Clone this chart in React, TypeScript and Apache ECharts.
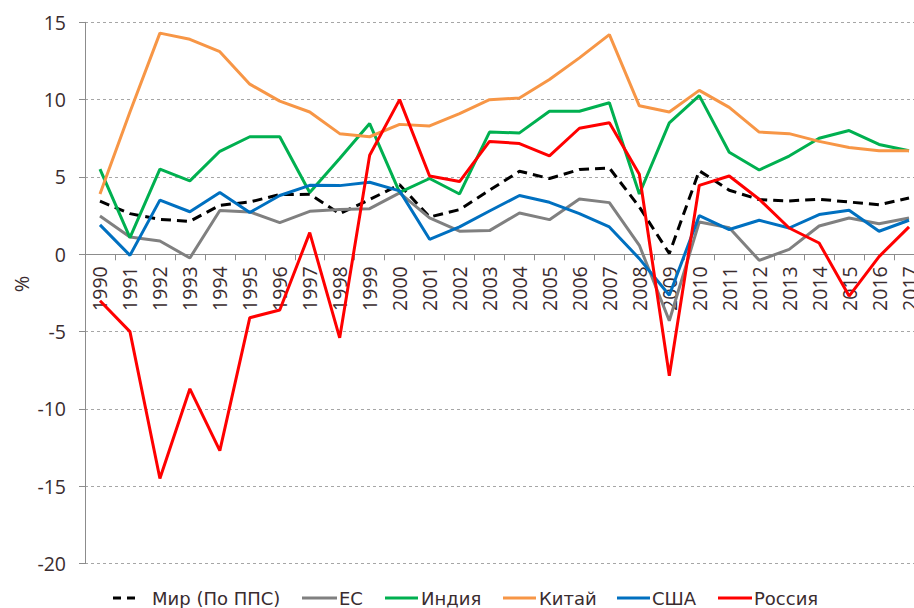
import React, { useEffect, useRef } from "react";
import * as echarts from "echarts";

const years = [
  "1990", "1991", "1992", "1993", "1994", "1995", "1996", "1997", "1998", "1999",
  "2000", "2001", "2002", "2003", "2004", "2005", "2006", "2007", "2008", "2009",
  "2010", "2011", "2012", "2013", "2014", "2015", "2016", "2017",
];

const world = [3.43, 2.63, 2.26, 2.13, 3.17, 3.38, 3.86, 3.88, 2.63, 3.54, 4.5, 2.41, 2.89, 4.14, 5.37, 4.9, 5.48, 5.58, 3.06, 0.05, 5.4, 4.14, 3.54, 3.45, 3.56, 3.38, 3.2, 3.64];
const eu = [2.48, 1.12, 0.86, -0.24, 2.83, 2.74, 2.05, 2.78, 2.9, 2.95, 3.97, 2.35, 1.49, 1.53, 2.67, 2.24, 3.58, 3.34, 0.58, -4.3, 2.09, 1.72, -0.39, 0.32, 1.83, 2.35, 1.98, 2.35];
const india = [5.5, 1.08, 5.5, 4.75, 6.66, 7.6, 7.6, 4.0, 6.2, 8.45, 4.0, 4.9, 3.9, 7.9, 7.85, 9.25, 9.25, 9.8, 3.9, 8.5, 10.26, 6.6, 5.45, 6.35, 7.5, 8.0, 7.1, 6.7];
const china = [3.9, 9.2, 14.3, 13.9, 13.1, 11.0, 9.9, 9.2, 7.8, 7.6, 8.4, 8.3, 9.1, 10.0, 10.1, 11.3, 12.7, 14.2, 9.6, 9.2, 10.6, 9.5, 7.9, 7.8, 7.3, 6.9, 6.7, 6.7];
const usa = [1.9, -0.07, 3.5, 2.75, 4.0, 2.7, 3.8, 4.46, 4.44, 4.66, 4.1, 0.97, 1.77, 2.8, 3.8, 3.36, 2.63, 1.77, -0.28, -2.65, 2.5, 1.6, 2.2, 1.7, 2.57, 2.85, 1.49, 2.2];
const russia = [-3.0, -5.0, -14.5, -8.7, -12.7, -4.1, -3.6, 1.4, -5.4, 6.4, 10.0, 5.06, 4.7, 7.3, 7.16, 6.36, 8.15, 8.5, 5.17, -7.85, 4.46, 5.06, 3.56, 1.7, 0.73, -2.7, -0.15, 1.77];

const seriesNames = ["Мир (По ППС)", "ЕС", "Индия", "Китай", "США", "Россия"];
const seriesColors = ["#000000", "#808080", "#00B050", "#F79646", "#0070C0", "#FF0000"];
const seriesData = [world, eu, india, china, usa, russia];

const Y_MIN = -20;
const Y_MAX = 15;
const Y_STEP = 5;

const textColor = "#3a2c2f";
const axisColor = "#8c8c8c";

// layout
const GRID_LEFT = 85;
const GRID_TOP = 22.3;
const GRID_W = 839;
const GRID_H = 541.3;

// legend placement (icon start, text start)
const legendIconX = [113, 302, 385, 503, 617, 718];
const legendTextX = [152, 339, 421, 539, 652, 754];
const legendIconLen = [23, 35, 33, 33, 33, 34];
const LEGEND_Y = 598;

export default function App() {
  const ref = useRef<HTMLDivElement>(null);

  useEffect(() => {
    if (!ref.current) return;
    const chart = echarts.init(ref.current, null, { renderer: "svg" });
    const zeroOffset = (GRID_H * (0 - Y_MIN)) / (Y_MAX - Y_MIN);

    const legendGraphics: any[] = [];
    seriesNames.forEach((name, i) => {
      legendGraphics.push({
        type: "line",
        shape: {
          x1: legendIconX[i],
          y1: LEGEND_Y,
          x2: legendIconX[i] + legendIconLen[i],
          y2: LEGEND_Y,
        },
        style: {
          stroke: seriesColors[i],
          lineWidth: 3,
          lineDash: i === 0 ? [8, 6] : null,
        },
      });
      legendGraphics.push({
        type: "text",
        x: legendTextX[i],
        y: LEGEND_Y,
        style: {
          text: name,
          fill: textColor,
          font: "18px 'DejaVu Sans'",
          textAlign: "left",
          textVerticalAlign: "middle",
        },
      });
    });

    chart.setOption({
      animation: false,
      backgroundColor: "#ffffff",
      grid: {
        left: GRID_LEFT,
        top: GRID_TOP,
        width: GRID_W,
        height: GRID_H,
        outerBoundsMode: "none",
        containLabel: false,
      },
      xAxis: {
        type: "category",
        data: years,
        boundaryGap: true,
        position: "bottom",
        offset: -zeroOffset,
        axisLine: { onZero: false, lineStyle: { color: axisColor, width: 1 } },
        axisTick: { show: true, interval: 0, length: 6, lineStyle: { color: axisColor } },
        axisLabel: {
          interval: 0,
          rotate: 90,
          margin: 12,
          color: textColor,
          fontFamily: "Open Sans",
          fontSize: 19.5,
        },
        splitLine: { show: false },
      },
      yAxis: {
        type: "value",
        min: Y_MIN,
        max: Y_MAX,
        interval: Y_STEP,
        axisLine: { show: true, onZero: false, lineStyle: { color: axisColor, width: 1 } },
        axisTick: { show: true, length: 6, lineStyle: { color: axisColor } },
        axisLabel: {
          margin: 19,
          color: textColor,
          fontFamily: "Open Sans",
          fontSize: 19.5,
        },
        splitLine: { show: true, lineStyle: { color: "#a6a6a6", type: [3, 3], width: 1 } },
      },
      graphic: [
        {
          type: "text",
          x: 21,
          y: 284,
          rotation: Math.PI / 2,
          style: {
            text: "%",
            fill: textColor,
            font: "20px 'Open Sans'",
            textAlign: "center",
            textVerticalAlign: "middle",
          },
        },
        ...legendGraphics,
      ],
      series: seriesNames.map((name, i) => ({
        name,
        type: "line",
        data: seriesData[i],
        symbol: "none",
        color: seriesColors[i],
        lineStyle: {
          color: seriesColors[i],
          width: 3,
          type: i === 0 ? [10, 6] : "solid",
        },
      })),
    });
    return () => chart.dispose();
  }, []);

  return (
    <div
      ref={ref}
      style={{ position: "absolute", left: 0, top: 0, width: 914, height: 608, overflow: "hidden" }}
    />
  );
}
